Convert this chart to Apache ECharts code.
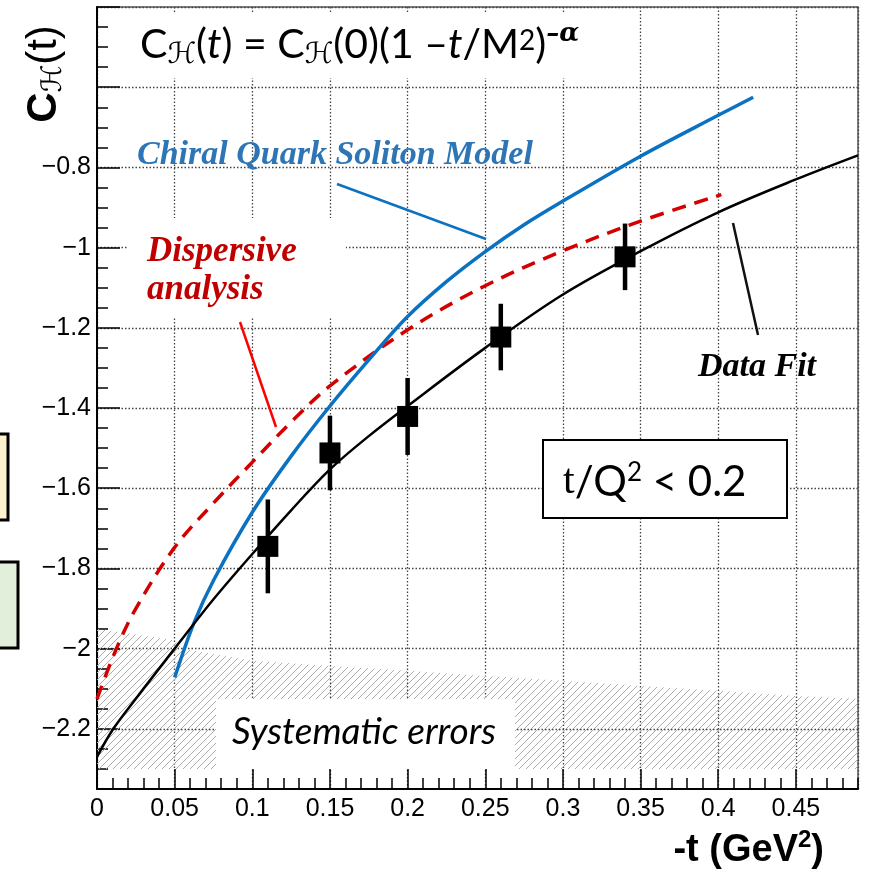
<!DOCTYPE html>
<html><head><meta charset="utf-8">
<script src="https://cdn.jsdelivr.net/npm/echarts@6/dist/echarts.min.js"></script>
<style>html,body{margin:0;padding:0;background:#fff}#c{width:872px;height:872px}</style>
</head><body><div id="c"></div>
<script>
// ---- data ----
const dataT   = [0.11, 0.15, 0.20, 0.26, 0.34];
const dataC   = [-1.745, -1.512, -1.421, -1.223, -1.023];
const dataErr = [0.117, 0.093, 0.096, 0.083, 0.083];

const fitT = [0, 0.01, 0.025, 0.05, 0.075, 0.1, 0.125, 0.15, 0.175, 0.2, 0.25, 0.3, 0.35, 0.4, 0.45, 0.49];
const fitC = [-2.27, -2.203, -2.125, -2.0, -1.877, -1.764, -1.655, -1.553, -1.47, -1.395, -1.25, -1.117, -1.009, -0.912, -0.83, -0.77];

const cqsmT = [0.05, 0.0625, 0.075, 0.1, 0.125, 0.15, 0.175, 0.2, 0.225, 0.25, 0.275, 0.3, 0.35, 0.4, 0.4225];
const cqsmC = [-2.072, -1.935, -1.83, -1.66, -1.52, -1.395, -1.28, -1.172, -1.085, -1.01, -0.943, -0.884, -0.772, -0.67, -0.625];

const dispT = [0, 0.0125, 0.025, 0.05, 0.075, 0.1, 0.125, 0.15, 0.2, 0.25, 0.3, 0.35, 0.402];
const dispC = [-2.125, -2.0, -1.9, -1.7475, -1.637, -1.535, -1.435, -1.345, -1.205, -1.095, -1.008, -0.934, -0.868];

const sysT   = [0, 0.05, 0.055, 0.1, 0.15, 0.2, 0.25, 0.3, 0.35, 0.4, 0.45, 0.49];
const sysTop = [-1.95, -1.98, -2.0, -2.03, -2.043, -2.055, -2.068, -2.08, -2.093, -2.105, -2.118, -2.125];
const sysBottom = -2.3;

const yMajorTicks  = [-2.2, -2.0, -1.8, -1.6, -1.4, -1.2, -1.0, -0.8, -0.6, -0.4];
const yLabelValues = [-2.2, -2.0, -1.8, -1.6, -1.4, -1.2, -1.0, -0.8];

// ---- hatch pattern ----
function hatch() {
  const s = 7, c = document.createElement('canvas');
  c.width = s; c.height = s;
  const g = c.getContext('2d');
  g.strokeStyle = '#ababab'; g.lineWidth = 1;
  g.beginPath();
  g.moveTo(0, s); g.lineTo(s, 0);
  g.moveTo(-1, 1); g.lineTo(1, -1);
  g.moveTo(s - 1, s + 1); g.lineTo(s + 1, s - 1);
  g.stroke();
  return c;
}
const hatchImg = hatch();

const chart = echarts.init(document.getElementById('c'), null, {renderer: 'canvas'});
const tickFont = {fontFamily: 'Liberation Sans', fontSize: 25, color: '#000'};
const dotted = {color: '#444', width: 1.3, type: [1.5, 2]};

const option = {
  animation: false,
  backgroundColor: '#fff',
  grid: {left: 97, right: 14, top: 7, bottom: 83, show: true, borderColor: '#555', borderWidth: 1.5, backgroundColor: 'transparent'},
  xAxis: [
    {type: 'value', min: 0, max: 0.49, interval: 0.05, position: 'bottom',
     axisLine: {show: true, lineStyle: {color: '#000', width: 2}},
     axisTick: {show: true, inside: true, length: 20, lineStyle: {color: '#000', width: 1.5}},
     axisLabel: {show: true, margin: 8, showMaxLabel: false, ...tickFont,
       formatter: v => String(+v.toFixed(2))},
     splitLine: {show: true, lineStyle: dotted}},
    {type: 'value', min: 0, max: 0.49, interval: 0.01, position: 'bottom',
     axisLine: {show: false}, axisLabel: {show: false}, splitLine: {show: false},
     axisTick: {show: true, inside: true, length: 11, lineStyle: {color: '#000', width: 1.5}}}
  ],
  yAxis: [
    {type: 'value', min: -2.35, max: -0.4, interval: 0.05, position: 'left',
     axisLine: {show: true, lineStyle: {color: '#000', width: 2}},
     axisLabel: {show: false}, splitLine: {show: false},
     axisTick: {show: true, inside: true, length: 11, lineStyle: {color: '#000', width: 1.5}}},
    {type: 'value', min: -2.35, max: -0.4, position: 'left',
     axisLine: {show: false},
     axisTick: {show: true, inside: true, length: 23, customValues: yMajorTicks, lineStyle: {color: '#000', width: 1.5}},
     axisLabel: {show: true, margin: 6, customValues: yLabelValues, ...tickFont,
       formatter: v => '\u2212' + String(+Math.abs(v).toFixed(2))},
     splitLine: {show: true, lineStyle: dotted}}
  ],
  series: [
    {type: 'custom', name: 'sys', z: 1, xAxisIndex: 0, yAxisIndex: 0, clip: true,
     data: [[0, 0]],
     renderItem: (params, api) => {
       const pts = sysT.map((t, i) => api.coord([t, sysTop[i]]));
       for (let i = sysT.length - 1; i >= 0; i--) pts.push(api.coord([sysT[i], sysBottom]));
       return {type: 'polygon', shape: {points: pts}, style: {fill: {image: hatchImg, repeat: 'repeat'}, stroke: null}};
     }},
    {type: 'line', name: 'Dispersive', z: 3, symbol: 'none', smooth: 0.35,
     data: dispT.map((t, i) => [t, dispC[i]]),
     lineStyle: {color: '#d40000', width: 3.5, type: [14, 9]}},
    {type: 'line', name: 'CQSM', z: 4, symbol: 'none', smooth: 0.35,
     data: cqsmT.map((t, i) => [t, cqsmC[i]]),
     lineStyle: {color: '#0b72c2', width: 3.5}},
    {type: 'line', name: 'Fit', z: 5, symbol: 'none', smooth: 0.35,
     data: fitT.map((t, i) => [t, fitC[i]]),
     lineStyle: {color: '#000', width: 2.5}},
    {type: 'custom', name: 'data', z: 6,
     data: dataT.map((t, i) => [t, dataC[i], dataErr[i]]),
     renderItem: (params, api) => {
       const t = api.value(0), c = api.value(1), e = api.value(2);
       const p = api.coord([t, c]), lo = api.coord([t, c - e]), hi = api.coord([t, c + e]);
       const s = 21;
       return {type: 'group', children: [
         {type: 'line', shape: {x1: lo[0], y1: lo[1], x2: hi[0], y2: hi[1]}, style: {stroke: '#000', lineWidth: 4.5}},
         {type: 'rect', shape: {x: p[0] - s / 2, y: p[1] - s / 2, width: s, height: s}, style: {fill: '#000'}}
       ]};
     }}
  ],
  graphic: [
    // cropped boxes at the left edge
    {type: 'rect', z: 2, shape: {x: -10, y: 434, width: 18, height: 86}, style: {fill: '#fff2cc', stroke: '#000', lineWidth: 3}},
    {type: 'rect', z: 2, shape: {x: -10, y: 562, width: 28, height: 86}, style: {fill: '#e2efda', stroke: '#000', lineWidth: 3}},
    // white backgrounds of text boxes
    {type: 'rect', z: 2, shape: {x: 112, y: 14, width: 498, height: 64}, style: {fill: '#fff'}},
    {type: 'rect', z: 2, shape: {x: 128, y: 218, width: 218, height: 100}, style: {fill: '#fff'}},
    {type: 'rect', z: 2, shape: {x: 216, y: 699, width: 299, height: 70}, style: {fill: '#fff'}},
    // formula
    {type: 'text', z: 8, x: 140, y: 45, style: {
      text: '{n|C}{s|ℋ}{n|(}{i|t}{n|) = C}{s|ℋ}{n|(0)(1 \u2013}{i|t}{n|/M}{p|2}{n|)}{q|\u2013\u03b1}',
      align: 'left', verticalAlign: 'middle',
      rich: {
        n: {fontFamily: 'Lato', fontSize: 41, fill: '#000'},
        i: {fontFamily: 'Lato', fontStyle: 'italic', fontSize: 41, fill: '#000'},
        s: {fontFamily: 'DejaVu Sans', fontSize: 29, fill: '#000', padding: [20, 0, 0, 0]},
        p: {fontFamily: 'Lato', fontSize: 28, fill: '#000', padding: [0, 0, 8, 0]},
        q: {fontFamily: 'DejaVu Serif', fontStyle: 'italic', fontWeight: 'bold', fontSize: 26, fill: '#000', padding: [0, 0, 22, 0]}
      }}},
    // y axis title
    {type: 'text', z: 8, x: 44, y: 74, rotation: Math.PI / 2, style: {
      text: '{b|C}{s|ℋ}{r|(t)}', align: 'center', verticalAlign: 'middle',
      rich: {
        b: {fontFamily: 'Liberation Sans', fontWeight: 'bold', fontSize: 42, fill: '#000'},
        s: {fontFamily: 'DejaVu Sans', fontSize: 28, fill: '#000', padding: [20, 0, 0, 0]},
        r: {fontFamily: 'Liberation Sans', fontSize: 42, fill: '#000'}
      }}},
    // x axis title
    {type: 'text', z: 8, x: 824, y: 851, style: {
      text: '{b|-t (GeV}{p|2}{b|)}', align: 'right', verticalAlign: 'middle',
      rich: {
        b: {fontFamily: 'Liberation Sans', fontWeight: 'bold', fontSize: 38, fill: '#000'},
        p: {fontFamily: 'Liberation Sans', fontWeight: 'bold', fontSize: 24, fill: '#000', padding: [0, 0, 22, 0]}
      }}},
    // model labels
    {type: 'text', z: 8, x: 137, y: 155, style: {text: 'Chiral Quark Soliton Model', fontFamily: 'Liberation Serif', fontStyle: 'italic', fontWeight: 'bold', fontSize: 34, fill: '#2e75b6', align: 'left', verticalAlign: 'middle'}},
    {type: 'line', z: 8, shape: {x1: 337, y1: 184, x2: 486, y2: 239}, style: {stroke: '#0b72c2', lineWidth: 2.5}},
    {type: 'text', z: 8, x: 147, y: 252, style: {text: 'Dispersive', fontFamily: 'Liberation Serif', fontStyle: 'italic', fontWeight: 'bold', fontSize: 35, fill: '#c00000', align: 'left', verticalAlign: 'middle'}},
    {type: 'text', z: 8, x: 147, y: 290, style: {text: 'analysis', fontFamily: 'Liberation Serif', fontStyle: 'italic', fontWeight: 'bold', fontSize: 35, fill: '#c00000', align: 'left', verticalAlign: 'middle'}},
    {type: 'line', z: 8, shape: {x1: 240, y1: 322, x2: 276, y2: 427}, style: {stroke: '#ff0000', lineWidth: 2.5}},
    {type: 'text', z: 8, x: 698, y: 367, style: {text: 'Data Fit', fontFamily: 'Liberation Serif', fontStyle: 'italic', fontWeight: 'bold', fontSize: 34, fill: '#000', align: 'left', verticalAlign: 'middle'}},
    {type: 'line', z: 8, shape: {x1: 733, y1: 223, x2: 758, y2: 335}, style: {stroke: '#111', lineWidth: 2.5}},
    {type: 'text', z: 8, x: 232, y: 732, style: {text: 'Systematic errors', fontFamily: 'Lato', fontStyle: 'italic', fontSize: 37, fill: '#000', align: 'left', verticalAlign: 'middle'}},
    // t/Q2 box
    {type: 'rect', z: 8, shape: {x: 543, y: 440, width: 244, height: 78}, style: {fill: '#fff', stroke: '#000', lineWidth: 2}},
    {type: 'text', z: 9, x: 563, y: 482, style: {
      text: '{t|t}{n|/Q}{p|2}{n| < 0.2}', align: 'left', verticalAlign: 'middle',
      rich: {
        t: {fontFamily: 'Liberation Serif', fontSize: 42, fill: '#000'},
        n: {fontFamily: 'Lato', fontSize: 42, fill: '#000'},
        p: {fontFamily: 'Lato', fontSize: 26, fill: '#000', padding: [0, 0, 18, 0]}
      }}}
  ]
};
chart.setOption(option);
</script>
</body></html>
